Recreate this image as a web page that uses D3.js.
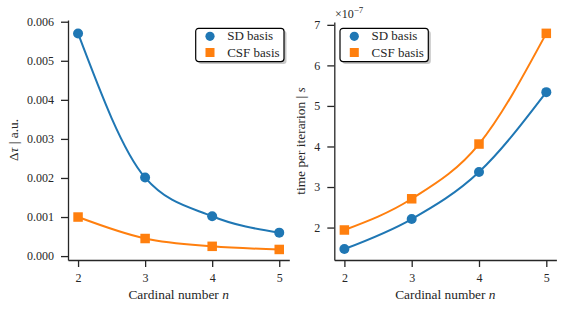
<!DOCTYPE html>
<html>
<head>
<meta charset="utf-8">
<script src="https://cdn.jsdelivr.net/npm/d3@7"></script>
<style>
  body { margin: 0; background: #fff; }
  svg text { font-family: "Liberation Serif", serif; fill: #262626; }
</style>
</head>
<body>
<svg id="fig" width="575" height="310"></svg>
<script>
/* ---------- data ---------- */
const cardinal = [2, 3, 4, 5];
const sdError = [0.0057, 0.00201, 0.00102, 0.0006];
const csfError = [0.001, 0.00045, 0.00025, 0.00017];
const sdTime = [1.47e-7, 2.21e-7, 3.37e-7, 5.34e-7];
const csfTime = [1.94e-7, 2.71e-7, 4.06e-7, 6.79e-7];
const xTicks = [2, 3, 4, 5];
const errTicks = [0, 0.001, 0.002, 0.003, 0.004, 0.005, 0.006];
const timeTicks = [2e-7, 3e-7, 4e-7, 5e-7, 6e-7, 7e-7];
const seriesNames = ["SD basis", "CSF basis"];
const colors = ["#1f77b4", "#ff7f0e"];

const svg = d3.select("#fig");
const ink = "#262626";

/* ---------- one panel ---------- */
function drawPanel(p) {
  const x = d3.scaleLinear().domain([1.85, 5.15]).range(p.xRange);
  const y = d3.scaleLinear().domain(p.yDomain).range(p.yRange);
  const g = svg.append("g");

  const xAxis = g.append("g")
    .attr("transform", `translate(0,${p.yRange[0]})`)
    .call(d3.axisBottom(x).tickValues(xTicks).tickFormat(d3.format("d"))
      .tickSize(7).tickPadding(6).tickSizeOuter(0));
  const yAxis = g.append("g")
    .attr("transform", `translate(${p.xRange[0]},0)`)
    .call(d3.axisLeft(y).tickValues(p.yTicks).tickFormat(p.fmt)
      .tickSize(7).tickPadding(7).tickSizeOuter(0));
  [xAxis, yAxis].forEach((a) => {
    a.attr("font-family", null).attr("font-size", null);
    a.select(".domain").attr("stroke", ink).attr("stroke-width", 1.3);
    a.selectAll(".tick line").attr("stroke", ink).attr("stroke-width", 1.3);
    a.selectAll(".tick text").attr("fill", "#333").style("font-size", "12px");
  });

  const line = d3.line()
    .x((d, i) => x(cardinal[i]))
    .y((d) => y(d))
    .curve(d3.curveMonotoneX);

  p.series.forEach((vals, k) => {
    g.append("path").datum(vals)
      .attr("fill", "none")
      .attr("stroke", colors[k])
      .attr("stroke-width", 2)
      .attr("d", line);
  });
  // markers on top
  g.selectAll("circle.sd").data(p.series[0]).join("circle")
    .attr("cx", (d, i) => x(cardinal[i]))
    .attr("cy", (d) => y(d))
    .attr("r", 5)
    .attr("fill", colors[0]);
  g.selectAll("rect.csf").data(p.series[1]).join("rect")
    .attr("x", (d, i) => x(cardinal[i]) - 4.75)
    .attr("y", (d) => y(d) - 4.75)
    .attr("width", 9.5).attr("height", 9.5)
    .attr("fill", colors[1]);

  // x label
  const xl = g.append("text")
    .attr("x", (p.xRange[0] + p.xRange[1]) / 2)
    .attr("y", 299)
    .attr("text-anchor", "middle")
    .style("font-size", "13.4px")
    .text("Cardinal number ");
  xl.append("tspan").style("font-style", "italic").text("n");

  // y label
  const yl = g.append("text")
    .attr("transform", `translate(${p.yLabelX},${(p.yRange[0] + p.yRange[1]) / 2}) rotate(-90)`)
    .attr("text-anchor", "middle")
    .style("font-size", "13.4px");
  p.yLabel.forEach(([t, it]) =>
    yl.append("tspan").style("font-style", it ? "italic" : "normal").text(t));

  // legend
  const lg = g.append("g").attr("transform", `translate(${p.legX},28.3)`);
  lg.append("rect").attr("x", 2.5).attr("y", 2.5)
    .attr("width", 88.3).attr("height", 33.3).attr("rx", 3)
    .attr("fill", "#999").attr("opacity", 0.55);
  lg.append("rect")
    .attr("width", 88.3).attr("height", 33.3).attr("rx", 3)
    .attr("fill", "#fff").attr("stroke", "#000").attr("stroke-width", 1.2);
  lg.append("circle").attr("cx", 14.3).attr("cy", 8).attr("r", 4.6).attr("fill", colors[0]);
  lg.append("rect").attr("x", 14.3 - 4.5).attr("y", 24.2 - 4.5)
    .attr("width", 9).attr("height", 9).attr("fill", colors[1]);
  seriesNames.forEach((s, k) => {
    lg.append("text").attr("x", 31.5).attr("y", 12 + k * 16.4)
      .style("font-size", "13px").text(s);
  });
  return g;
}

drawPanel({
  xRange: [68, 289.3],
  yRange: [260, 20],
  yDomain: [-0.0001, 0.006044],
  yTicks: errTicks,
  fmt: d3.format(".3f"),
  series: [sdError, csfError],
  yLabel: [["Δ", false], ["τ", true], [" | a.u.", false]],
  yLabelX: 18,
  legX: 195.7,
});

const right = drawPanel({
  xRange: [334.3, 556.4],
  yRange: [260, 22],
  yDomain: [1.2e-7, 7.07e-7],
  yTicks: timeTicks,
  fmt: (d) => d3.format("d")(Math.round(d / 1e-7)),
  series: [sdTime, csfTime],
  yLabel: [["time per iterarion | ", false], ["s", true]],
  yLabelX: 305,
  legX: 340,
});

// offset text
const off = right.append("text").attr("x", 335).attr("y", 18.3).style("font-size", "12px").text("×10");
off.append("tspan").attr("dy", -5).style("font-size", "9px").text("−7");
</script>
</body>
</html>
